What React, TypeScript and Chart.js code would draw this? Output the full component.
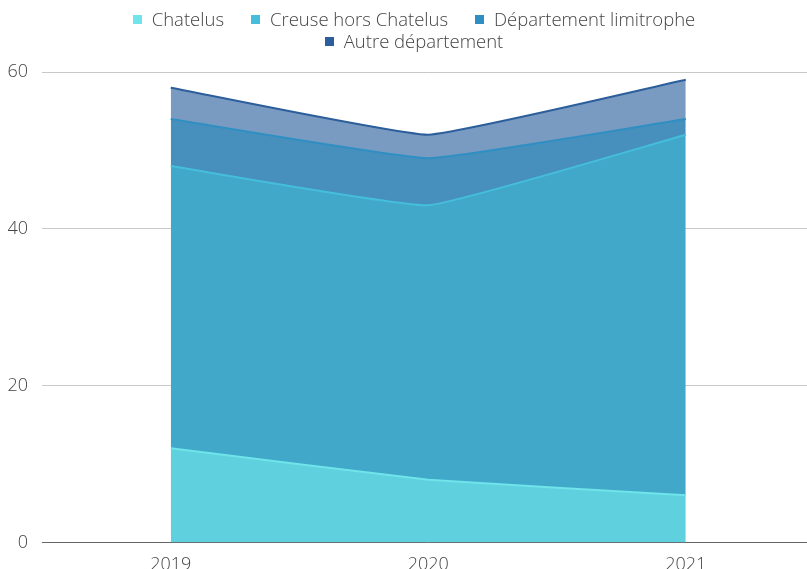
import React, { useEffect, useRef } from "react";
import { Chart, registerables } from "chart.js";

Chart.register(...registerables);

const years = ["2019", "2020", "2021"];
const chatelus = [12, 8, 6];
const creuse = [36, 35, 46];
const limitrophe = [6, 6, 2];
const autre = [4, 3, 5];
const seriesNames = ["Chatelus", "Creuse hors Chatelus", "Département limitrophe", "Autre département"];
const yTicks = [0, 20, 40, 60];

const lineColors = ["#6fe4ea", "#45bedb", "#2f8fc2", "#2c5e9b"];
const fillColors = ["#5fd0dd", "#42a8ca", "#4790bd", "#7a9bc1"];
const FONT = "'Open Sans', sans-serif";
const W = 828;
const H = 588;

export default function App() {
  const ref = useRef<HTMLCanvasElement | null>(null);
  useEffect(() => {
    document.body.style.margin = "0";
    document.body.style.overflow = "hidden";
    const data = [chatelus, creuse, limitrophe, autre];
    const chart = new Chart(ref.current!, {
      type: "line",
      data: {
        labels: years,
        datasets: data.map((d, i) => ({
          label: seriesNames[i],
          data: d,
          borderColor: lineColors[i],
          backgroundColor: fillColors[i],
          borderWidth: 2,
          pointRadius: 0,
          tension: 0.1,
          fill: i === 0 ? "origin" : "-1",
        })),
      },
      options: {
        animation: false,
        responsive: false,
        layout: { padding: { left: 8, right: 13.5, top: 72, bottom: 0 } },
        plugins: {
          legend: { display: false },
          tooltip: { enabled: false },
        },
        scales: {
          x: {
            offset: true,
            grid: { display: false, drawTicks: false },
            border: { display: true, color: "#666", width: 1 },
            ticks: { color: "#444", padding: 12, font: { family: FONT, size: 18, weight: "300" } },
          },
          y: {
            stacked: true,
            min: 0,
            max: 60,
            afterBuildTicks: (axis: any) => {
              axis.ticks = yTicks.map((v) => ({ value: v }));
            },
            afterFit: (axis: any) => {
              axis.width = 34;
            },
            grid: { color: "#c8c8c8", drawTicks: false },
            border: { display: false },
            ticks: { color: "#444", padding: 14, font: { family: FONT, size: 18, weight: "300" } },
          },
        },
      },
    });
    return () => chart.destroy();
  }, []);
  return (
    <div style={{ position: "absolute", left: 0, top: 0, width: W, height: H }}>
      <canvas ref={ref} width={W} height={H} style={{ width: W, height: H, display: "block" }} />
      <div
        style={{
          position: "absolute",
          top: 8,
          left: 414 - 320,
          width: 640,
          display: "flex",
          flexWrap: "wrap",
          justifyContent: "center",
          columnGap: 27,
          rowGap: 0,
          fontFamily: FONT,
          fontWeight: 300,
          fontSize: 18.5,
          lineHeight: "22px",
          color: "#444",
        }}
      >
        {seriesNames.map((n, i) => (
          <div key={n} style={{ display: "flex", alignItems: "center", whiteSpace: "nowrap" }}>
            <span
              style={{
                display: "inline-block",
                width: 9,
                height: 9,
                background: lineColors[i],
                marginRight: 10,
              }}
            />
            <span>{n}</span>
          </div>
        ))}
      </div>
    </div>
  );
}
